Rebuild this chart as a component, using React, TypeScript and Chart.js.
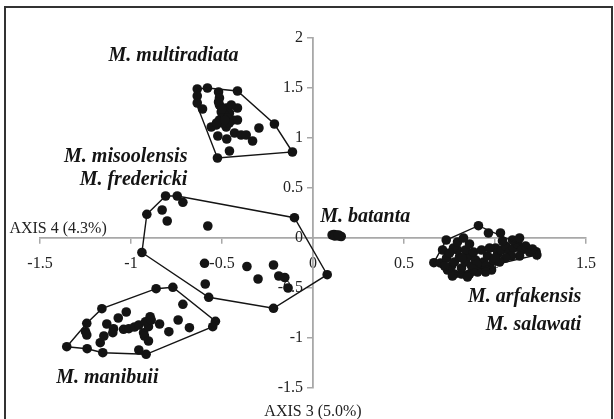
import React, { useEffect, useRef } from "react";
import { Chart, registerables } from "chart.js";
Chart.register(...registerables);

// ---- axis ranges / ticks ----
const xRange = [-1.5, 1.5];
const yRange = [-1.5, 2];
const tickStep = 0.5;
const xAxisTitle = "AXIS 4 (4.3%)";
const yAxisTitle = "AXIS 3 (5.0%)";

// ---- group names ----
const groupNames = [
  "M. multiradiata",
  "M. misoolensis",
  "M. fredericki",
  "M. batanta",
  "M. arfakensis",
  "M. salawati",
  "M. manibuii",
];

// ---- points (AXIS 4, AXIS 3) ----
const multiradiataPts = [
  [-0.636, 1.49], [-0.58, 1.5], [-0.415, 1.47], [-0.212, 1.14], [-0.113, 0.86], [-0.525, 0.8],
  [-0.636, 1.42], [-0.636, 1.35], [-0.607, 1.29], [-0.519, 1.46], [-0.514, 1.4], [-0.514, 1.33],
  [-0.504, 1.26], [-0.497, 1.21], [-0.477, 1.3], [-0.459, 1.25], [-0.442, 1.18], [-0.415, 1.3],
  [-0.415, 1.18], [-0.514, 1.18], [-0.532, 1.13], [-0.559, 1.11], [-0.477, 1.11], [-0.431, 1.05],
  [-0.395, 1.03], [-0.367, 1.03], [-0.332, 0.97], [-0.297, 1.1], [-0.523, 1.02], [-0.474, 0.99],
  [-0.459, 0.87], [-0.497, 1.15], [-0.449, 1.33], [-0.49, 1.24], [-0.47, 1.2], [-0.53, 1.15],
  [-0.519, 1.36], [-0.5, 1.29], [-0.46, 1.15], [-0.485, 1.18],
];
const multiradiataHull = [
  [-0.636, 1.49], [-0.58, 1.5], [-0.415, 1.47], [-0.212, 1.14], [-0.113, 0.86], [-0.525, 0.8],
  [-0.64, 1.34], [-0.636, 1.49],
];

const misoolensisPts = [
  [-0.913, 0.237], [-0.81, 0.42], [-0.746, 0.42], [-0.102, 0.203], [0.078, -0.367], [-0.217, -0.703],
  [-0.573, -0.593], [-0.94, -0.145],
  [-0.715, 0.357], [-0.829, 0.28], [-0.801, 0.17], [-0.578, 0.12], [-0.596, -0.253], [-0.592, -0.46],
  [-0.363, -0.285], [-0.302, -0.41], [-0.217, -0.27], [-0.188, -0.38], [-0.155, -0.395], [-0.137, -0.5],
];
const misoolensisHull = [
  [-0.913, 0.237], [-0.81, 0.42], [-0.746, 0.42], [-0.102, 0.203], [0.078, -0.367], [-0.217, -0.703],
  [-0.573, -0.593], [-0.94, -0.145], [-0.913, 0.237],
];

const batantaPts = [
  [0.105, 0.03], [0.115, 0.035], [0.125, 0.03], [0.135, 0.025], [0.145, 0.02], [0.155, 0.015],
  [0.12, 0.02], [0.14, 0.03],
];

const arfakensisPts = [
  [0.664, -0.247], [0.732, -0.02], [0.909, 0.123], [1.226, -0.137], [1.23, -0.17], [0.777, -0.36],
  [0.701, -0.25], [0.734, -0.2], [0.761, -0.28], [0.739, -0.32], [0.777, -0.24], [0.805, -0.19],
  [0.816, -0.3], [0.838, -0.24], [0.86, -0.18], [0.871, -0.28], [0.893, -0.22], [0.915, -0.3],
  [0.937, -0.24], [0.959, -0.18], [0.97, -0.28], [0.992, -0.22], [1.014, -0.16], [1.003, -0.1],
  [1.036, -0.12], [1.058, -0.08], [1.08, -0.14], [1.102, -0.1], [1.124, -0.06], [1.146, -0.12],
  [1.168, -0.08], [1.19, -0.14], [1.206, -0.11], [1.135, -0.18], [1.091, -0.18], [1.058, -0.2],
  [1.025, -0.24], [0.981, -0.32], [0.948, -0.34], [0.904, -0.34], [0.86, -0.36], [0.816, -0.36],
  [0.794, -0.12], [0.772, -0.1], [0.838, -0.12], [0.882, -0.14], [0.926, -0.12], [0.97, -0.1],
  [0.794, -0.04], [0.86, -0.06], [0.827, 0.0], [0.712, -0.12], [0.723, -0.28], [0.766, -0.38],
  [0.849, -0.39], [1.096, -0.02], [1.135, 0.0], [1.041, -0.03], [0.964, 0.05], [1.03, 0.05],
  [0.75, -0.15], [0.82, -0.2], [0.9, -0.26], [0.95, -0.28], [1.0, -0.2], [0.88, -0.31],
];
const arfakensisHull = [
  [0.664, -0.247], [0.732, -0.02], [0.909, 0.123], [1.226, -0.137], [1.23, -0.17], [0.777, -0.36],
  [0.664, -0.247],
];

const manibuiiPts = [
  [-1.353, -1.087], [-1.243, -0.853], [-1.16, -0.707], [-0.862, -0.507], [-0.77, -0.493], [-0.536, -0.833],
  [-0.551, -0.887], [-0.917, -1.163], [-1.155, -1.147], [-1.241, -1.107],
  [-1.25, -0.937], [-1.243, -0.97], [-1.169, -1.047], [-1.149, -0.98], [-1.133, -0.86], [-1.096, -0.907],
  [-1.07, -0.8], [-1.026, -0.74], [-1.1, -0.947], [-1.041, -0.913], [-1.012, -0.907], [-0.981, -0.89],
  [-0.957, -0.87], [-0.931, -0.947], [-0.926, -0.98], [-0.904, -1.03], [-0.904, -0.887], [-0.895, -0.787],
  [-0.843, -0.86], [-0.792, -0.937], [-0.741, -0.82], [-0.715, -0.663], [-0.679, -0.897], [-0.957, -1.12],
  [-0.92, -0.837], [-0.889, -0.82],
];
const manibuiiHull = [
  [-1.353, -1.087], [-1.243, -0.853], [-1.16, -0.707], [-0.862, -0.507], [-0.77, -0.493], [-0.536, -0.833],
  [-0.551, -0.887], [-0.917, -1.163], [-1.155, -1.147], [-1.241, -1.107], [-1.353, -1.087],
];

// label anchors in data units (x, y, alignment)
const labelAnchors = [
  { x: -0.766, y: 1.82, align: "center" },
  { x: -0.69, y: 0.813, align: "right" },
  { x: -0.69, y: 0.58, align: "right" },
  { x: 0.04, y: 0.213, align: "left" },
  { x: 1.474, y: -0.593, align: "right" },
  { x: 1.474, y: -0.87, align: "right" },
  { x: -1.13, y: -1.4, align: "center" },
];

const toXY = (arr: number[][]) => arr.map(([x, y]) => ({ x, y }));

const INK = "#141414";
const TICK_INK = "#222222";

const decorPlugin = {
  id: "decor",
  beforeDraw(chart: any) {
    const ctx = chart.ctx;
    ctx.save();
    ctx.fillStyle = "#ffffff";
    ctx.fillRect(0, 0, chart.width, chart.height);
    ctx.strokeStyle = "#333333";
    ctx.lineWidth = 2;
    ctx.strokeRect(5, 7, chart.width - 7, chart.height + 10);
    ctx.restore();
  },
  beforeDatasetsDraw(chart: any) {
    const ctx = chart.ctx;
    const xs = chart.scales.x;
    const ys = chart.scales.y;
    ctx.save();
    // y tick labels, to the left of the crossing axis (under the points)
    ctx.font = "16px 'Liberation Serif'";
    ctx.fillStyle = TICK_INK;
    ctx.textAlign = "right";
    ctx.textBaseline = "middle";
    const axisX = xs.getPixelForValue(0);
    ys.ticks.forEach((t: any) => {
      ctx.fillText(String(t.value), axisX - 10, ys.getPixelForValue(t.value));
    });
    ctx.restore();
  },
  afterDraw(chart: any) {
    const ctx = chart.ctx;
    const xs = chart.scales.x;
    const ys = chart.scales.y;
    ctx.save();
    ctx.textBaseline = "middle";
    // group names
    ctx.fillStyle = INK;
    ctx.font = "bold italic 20px 'Liberation Serif'";
    groupNames.forEach((name, i) => {
      const a = labelAnchors[i];
      ctx.textAlign = a.align;
      ctx.fillText(name, xs.getPixelForValue(a.x), ys.getPixelForValue(a.y));
    });
    // axis titles
    ctx.font = "16px 'Liberation Serif'";
    ctx.fillStyle = TICK_INK;
    ctx.textAlign = "left";
    ctx.fillText(xAxisTitle, xs.getPixelForValue(-1.668), ys.getPixelForValue(0.09));
    ctx.textAlign = "center";
    ctx.fillText(yAxisTitle, xs.getPixelForValue(0), ys.getPixelForValue(-1.737));
    ctx.restore();
  },
};

function pointSet(data: number[][]) {
  return {
    type: "scatter",
    data: toXY(data),
    pointRadius: 4.8,
    pointBackgroundColor: INK,
    pointBorderColor: INK,
    pointBorderWidth: 0,
    showLine: false,
  };
}
function hullSet(data: number[][]) {
  return {
    type: "scatter",
    data: toXY(data),
    showLine: true,
    pointRadius: 0,
    borderColor: INK,
    borderWidth: 1.4,
    tension: 0,
    fill: false,
  };
}

export default function App() {
  const ref = useRef<HTMLCanvasElement | null>(null);
  useEffect(() => {
    if (!ref.current) return;
    const tickFont = { family: "'Liberation Serif'", size: 16 };
    const chart = new Chart(ref.current, {
      type: "scatter",
      data: {
        datasets: [
          hullSet(multiradiataHull),
          hullSet(misoolensisHull),
          hullSet(arfakensisHull),
          hullSet(manibuiiHull),
          pointSet(multiradiataPts),
          pointSet(misoolensisPts),
          pointSet(batantaPts),
          pointSet(arfakensisPts),
          pointSet(manibuiiPts),
        ] as any,
      },
      plugins: [decorPlugin],
      options: {
        responsive: false,
        animation: false,
        events: [],
        layout: { padding: { left: 40, right: 28, top: 38, bottom: 31 } },
        plugins: { legend: { display: false }, tooltip: { enabled: false } },
        scales: {
          x: {
            type: "linear",
            min: xRange[0],
            max: xRange[1],
            position: { y: 0 } as any,
            afterFit: (s: any) => { s.height = 0; },
            grid: { display: true, drawOnChartArea: false, drawTicks: true, tickLength: 5, color: "#a8a8a8", lineWidth: 1.5 },
            border: { display: true, color: "#a8a8a8", width: 1.8 },
            ticks: { stepSize: tickStep, font: tickFont, color: TICK_INK, padding: 11, maxRotation: 0, autoSkip: false, callback: (v: any) => String(v) },
          },
          y: {
            type: "linear",
            min: yRange[0],
            max: yRange[1],
            position: { x: 0 } as any,
            afterFit: (s: any) => { s.width = 0; },
            grid: { display: true, drawOnChartArea: false, drawTicks: true, tickLength: 5, color: "#a8a8a8", lineWidth: 1.5 },
            border: { display: true, color: "#a8a8a8", width: 1.8 },
            ticks: { stepSize: tickStep, display: false, autoSkip: false },
          },
        },
      } as any,
    });
    return () => chart.destroy();
  }, []);
  return (
    <div style={{ position: "fixed", left: 0, top: 0, width: 614, height: 419, background: "#fff" }}>
      <canvas ref={ref} width={614} height={419} style={{ display: "block" }} />
    </div>
  );
}
